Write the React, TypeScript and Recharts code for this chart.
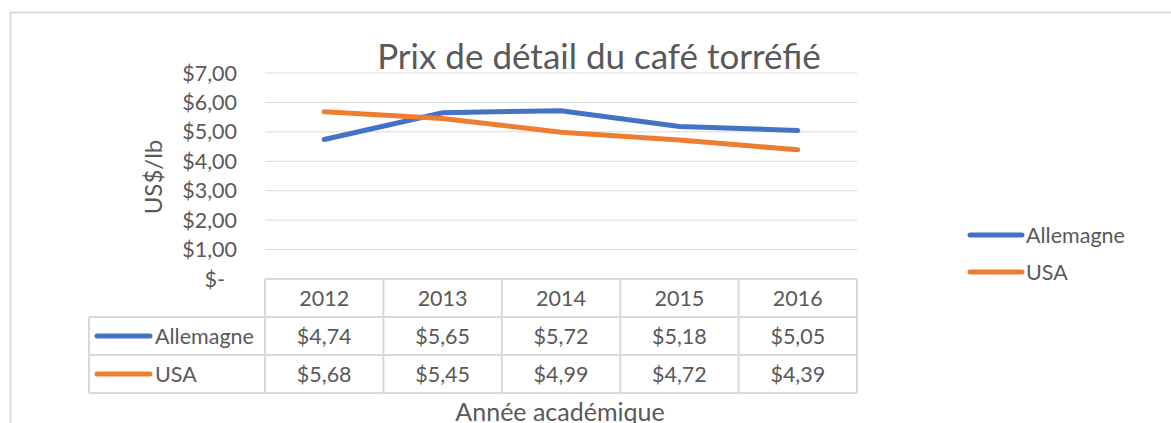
import React from "react"
import { CartesianGrid, Line, LineChart, XAxis, YAxis } from "recharts"

const years = ["2012", "2013", "2014", "2015", "2016"]
const allemagne = [4.74, 5.65, 5.72, 5.18, 5.05]
const usa = [5.68, 5.45, 4.99, 4.72, 4.39]
const yTicks = [0, 1, 2, 3, 4, 5, 6, 7]

const series = [
  { key: "Allemagne", color: "#4472C4", values: allemagne },
  { key: "USA", color: "#ED7D31", values: usa },
]

const data = years.map((year, i) => ({
  year,
  Allemagne: allemagne[i],
  USA: usa[i],
}))

const W = 1171
const H = 423
const PLOT_LEFT = 265
const PLOT_RIGHT = 857
const PLOT_TOP = 73
const AXIS_Y = 279
const CELL = (PLOT_RIGHT - PLOT_LEFT) / years.length
const ROW = 38
const TABLE_LEFT = 89
const FONT = "Lato, Carlito, Calibri, 'Open Sans', sans-serif"
const FS = 21.5
const TEXT = "#595959"
const GRID = "#D9D9D9"

const money = (v: number) => "$" + v.toFixed(2).replace(".", ",")

function YTick(props: any) {
  const { x, y, payload } = props
  const v = payload.value as number
  return (
    <text
      x={v === 0 ? x - 12 : x}
      y={y}
      dy="0.35em"
      textAnchor="end"
      fontSize={FS}
      fontFamily={FONT}
      fill={TEXT}
    >
      {v === 0 ? "$-" : money(v)}
    </text>
  )
}

function TableTick(props: any) {
  const { x, y, payload } = props
  const i = years.indexOf(payload.value)
  const left = x - CELL / 2
  const right = x + CELL / 2
  const bottom = y + ROW * 3
  return (
    <g>
      {i === 0 && (
        <g>
          <line x1={left} y1={y} x2={left} y2={bottom} stroke={GRID} strokeWidth={2} />
          <line x1={TABLE_LEFT} y1={y + ROW} x2={TABLE_LEFT} y2={bottom} stroke={GRID} strokeWidth={2} />
          {[1, 2, 3].map((r) => (
            <line key={r} x1={TABLE_LEFT} y1={y + ROW * r} x2={left} y2={y + ROW * r} stroke={GRID} strokeWidth={2} />
          ))}
          {series.map((s, r) => (
            <g key={s.key}>
              <line
                x1={TABLE_LEFT + 8}
                x2={TABLE_LEFT + 61}
                y1={y + ROW * (r + 1.5)}
                y2={y + ROW * (r + 1.5)}
                stroke={s.color}
                strokeWidth={5}
                strokeLinecap="round"
              />
              <text
                x={TABLE_LEFT + 66}
                y={y + ROW * (r + 1.5)}
                dy="0.35em"
                fontSize={FS}
                fontFamily={FONT}
                fill={TEXT}
              >
                {s.key}
              </text>
            </g>
          ))}
        </g>
      )}
      <line x1={right} y1={y} x2={right} y2={bottom} stroke={GRID} strokeWidth={2} />
      {[1, 2, 3].map((r) => (
        <line key={r} x1={left} y1={y + ROW * r} x2={right} y2={y + ROW * r} stroke={GRID} strokeWidth={2} />
      ))}
      <text x={x} y={y + ROW * 0.5} dy="0.35em" textAnchor="middle" fontSize={FS} fontFamily={FONT} fill={TEXT}>
        {payload.value}
      </text>
      {series.map((s, r) => (
        <text
          key={s.key}
          x={x}
          y={y + ROW * (r + 1.5)}
          dy="0.35em"
          textAnchor="middle"
          fontSize={FS}
          fontFamily={FONT}
          fill={TEXT}
        >
          {money(s.values[i])}
        </text>
      ))}
    </g>
  )
}

export default function App() {
  return (
    <div style={{ position: "absolute", left: 0, top: 0, width: W, height: H, background: "#fff" }}>
      <LineChart
        width={W}
        height={H}
        data={data}
        margin={{ top: PLOT_TOP, right: W - PLOT_RIGHT, bottom: 0, left: PLOT_LEFT - 100 }}
      >
        <CartesianGrid stroke={GRID} vertical={false} />
        <XAxis
          dataKey="year"
          height={H - AXIS_Y}
          padding={{ left: CELL / 2, right: CELL / 2 }}
          axisLine={{ stroke: GRID, strokeWidth: 2 }}
          tickLine={false}
          tickSize={0}
          tickMargin={0}
          interval={0}
          tick={<TableTick />}
        />
        <YAxis
          width={100}
          domain={[0, 7]}
          ticks={yTicks}
          axisLine={false}
          tickLine={false}
          tickSize={8}
          tickMargin={20}
          tick={<YTick />}
        />
        {series.map((s) => (
          <Line
            key={s.key}
            dataKey={s.key}
            type="linear"
            stroke={s.color}
            strokeWidth={5}
            strokeLinecap="round"
            dot={false}
            activeDot={false}
            isAnimationActive={false}
          />
        ))}
      </LineChart>
      <svg
        width={W}
        height={H}
        style={{ position: "absolute", left: 0, top: 0, pointerEvents: "none" }}
      >
        <rect x={10.5} y={12.5} width={W + 20} height={H + 20} fill="none" stroke={GRID} strokeWidth={2} />
        <text x={599} y={69} textAnchor="middle" fontSize={35} fontFamily={FONT} fill={TEXT}>
          Prix de détail du café torréfié
        </text>
        <text
          x={162}
          y={177}
          textAnchor="middle"
          transform="rotate(-90, 162, 177)"
          fontSize={24}
          fontFamily={FONT}
          fill={TEXT}
        >
          US$/lb
        </text>
        <text x={560} y={421} textAnchor="middle" fontSize={25} fontFamily={FONT} fill={TEXT}>
          Année académique
        </text>
        {series.map((s, r) => (
          <g key={s.key}>
            <line
              x1={970}
              x2={1022}
              y1={235 + r * 37}
              y2={235 + r * 37}
              stroke={s.color}
              strokeWidth={5}
              strokeLinecap="round"
            />
            <text x={1026} y={235 + r * 37} dy="0.35em" fontSize={FS} fontFamily={FONT} fill={TEXT}>
              {s.key}
            </text>
          </g>
        ))}
      </svg>
    </div>
  )
}
